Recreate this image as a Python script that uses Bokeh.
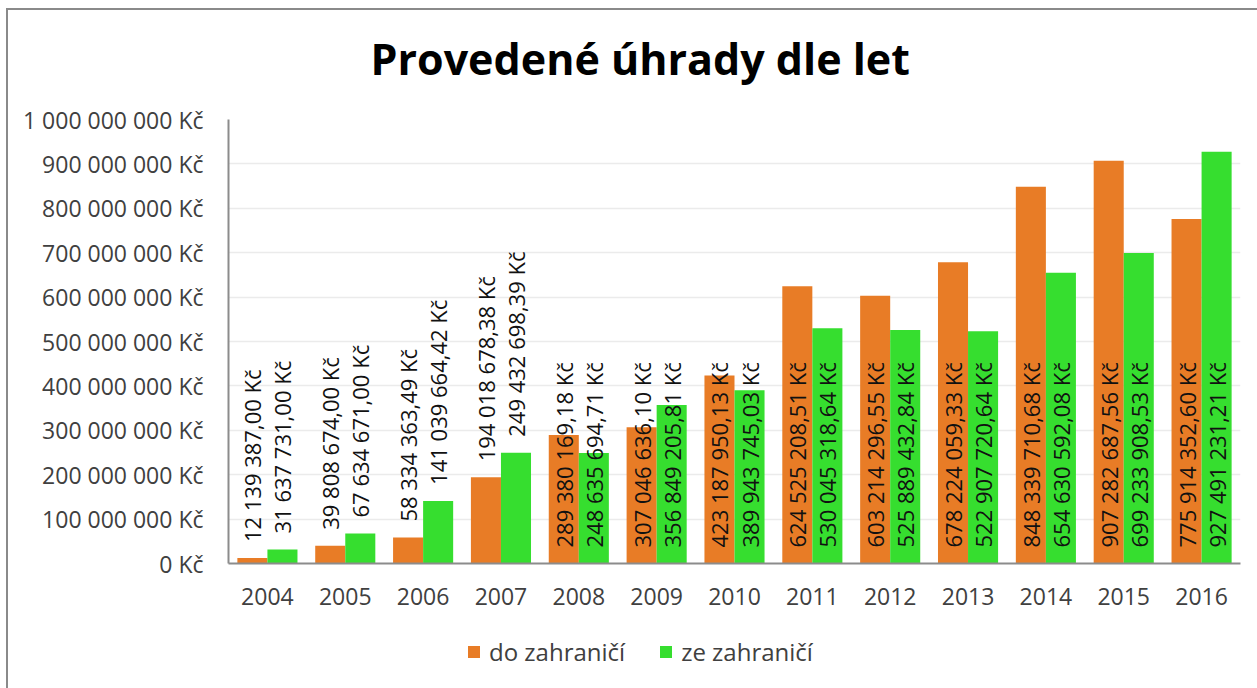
from math import pi
from bokeh.plotting import figure
from bokeh.layouts import column
from bokeh.models import (ColumnDataSource, FactorRange, Range1d, FixedTicker,
                          Legend, LegendItem)
from bokeh.transform import dodge
from bokeh.core.properties import value
from bokeh.embed import file_html
from bokeh.resources import INLINE

years = ["2004", "2005", "2006", "2007", "2008", "2009", "2010",
         "2011", "2012", "2013", "2014", "2015", "2016"]
do_zahranici = [12139387.00, 39808674.00, 58334363.49, 194018678.38,
                289380169.18, 307046636.10, 423187950.13, 624525208.51,
                603214296.55, 678224059.33, 848339710.68, 907282687.56,
                775914352.60]
ze_zahranici = [31637731.00, 67634671.00, 141039664.42, 249432698.39,
                248635694.71, 356849205.81, 389943745.03, 530045318.64,
                525889432.84, 522907720.64, 654630592.08, 699233908.53,
                927491231.21]
series_names = ["do zahraničí", "ze zahraničí"]
y_ticks = [0, 100000000, 200000000, 300000000, 400000000, 500000000,
           600000000, 700000000, 800000000, 900000000, 1000000000]
y_tick_labels = ["0 Kč", "100 000 000 Kč", "200 000 000 Kč", "300 000 000 Kč",
                 "400 000 000 Kč", "500 000 000 Kč", "600 000 000 Kč",
                 "700 000 000 Kč", "800 000 000 Kč", "900 000 000 Kč",
                 "1 000 000 000 Kč"]
title_text = "Provedené úhrady dle let"

ORANGE = "#E87C26"
GREEN = "#36DE2F"
FONT = "Open Sans"
TXT = "#404040"


def fmt(v):
    return f"{v:,.2f}".replace(",", " ").replace(".", ",") + " Kč"


# labels of the early (short) bars sit above the bar, the others start at the base
label_above = [int(y) <= 2007 for y in years]

src = ColumnDataSource(dict(
    year=years,
    do=do_zahranici,
    ze=ze_zahranici,
    do_lbl=[fmt(v) for v in do_zahranici],
    ze_lbl=[fmt(v) for v in ze_zahranici],
    do_anchor=[v if a else 0 for v, a in zip(do_zahranici, label_above)],
    ze_anchor=[v if a else 0 for v, a in zip(ze_zahranici, label_above)],
))

p = figure(width=1249, height=640, x_range=FactorRange(*years),
           y_range=Range1d(0, 1e9), output_backend="svg",
           toolbar_location=None, tools="")
p.styles = {"margin-top": "-20px"}
p.min_border_left = 220
p.min_border_right = 17
p.min_border_top = 129
p.min_border_bottom = 67
p.outline_line_color = None
p.background_fill_color = "white"
p.border_fill_alpha = 0
p.x_range.range_padding = 0

OFF = 0.193
W = 0.386
r1 = p.vbar(x=dodge("year", -OFF, range=p.x_range), top="do", width=W,
            fill_color=ORANGE, line_color=None, source=src)
r2 = p.vbar(x=dodge("year", OFF, range=p.x_range), top="ze", width=W,
            fill_color=GREEN, line_color=None, source=src)

for off, anchor, lbl in ((-OFF, "do_anchor", "do_lbl"), (OFF, "ze_anchor", "ze_lbl")):
    p.text(x=dodge("year", off, range=p.x_range), y=anchor, text=lbl,
           angle=pi / 2, text_align="left", text_baseline="middle",
           y_offset=-16, text_font=value(FONT), text_font_size="22px",
           text_color="#111111", source=src)

# axes
p.yaxis.ticker = FixedTicker(ticks=y_ticks)
p.yaxis.major_label_overrides = dict(zip(y_ticks, y_tick_labels))
p.ygrid.ticker = FixedTicker(ticks=y_ticks)
p.ygrid.grid_line_color = "#ebebeb"
p.ygrid.grid_line_width = 1.5
p.xgrid.grid_line_color = None
for ax in (p.xaxis[0], p.yaxis[0]):
    ax.axis_line_color = "#8c8c8c"
    ax.axis_line_width = 2
    ax.major_tick_line_color = None
    ax.minor_tick_line_color = None
    ax.major_label_text_font = FONT
    ax.major_label_text_font_size = "23px"
    ax.major_label_text_color = TXT
p.yaxis.major_label_standoff = 19
p.xaxis.major_label_standoff = 18

p.title.text = title_text
p.title.align = "left"
p.title.offset = 142
p.title.standoff = 64
p.title.text_font = FONT
p.title.text_font_size = "43px"
p.title.text_font_style = "bold"
p.title.text_color = "#000000"

# legend strip below the chart (same series, same colours; zero-width bars,
# only their legend swatches show)
lf = figure(width=1249, height=58, title=None, x_range=FactorRange(*years),
            y_range=Range1d(-3e9, -2e9), output_backend="svg",
            toolbar_location=None, tools="", x_axis_location=None,
            y_axis_location=None)
lf.min_border = 0
lf.outline_line_color = None
lf.background_fill_color = "white"
lf.border_fill_alpha = 0
lf.grid.visible = False
lr1 = lf.vbar(x="year", top="do", width=0, fill_color=ORANGE, line_color=None, source=src)
lr2 = lf.vbar(x="year", top="ze", width=0, fill_color=GREEN, line_color=None, source=src)
legend = Legend(items=[LegendItem(label=series_names[0], renderers=[lr1]),
                       LegendItem(label=series_names[1], renderers=[lr2])],
                orientation="horizontal", location=(238, 20),
                glyph_width=15, glyph_height=15, label_standoff=8, spacing=33,
                padding=0, margin=0, border_line_color=None,
                background_fill_alpha=0, label_text_font=FONT,
                label_text_font_size="24px", label_text_color=TXT)
lf.add_layout(legend)

layout = column(p, lf, spacing=0)
layout.styles = {"border-left": "2px solid #8a8a8a", "border-top": "2px solid #8a8a8a",
                 "margin-left": "6px", "margin-top": "8px"}

open("out.html", "w").write(file_html(layout, INLINE))
